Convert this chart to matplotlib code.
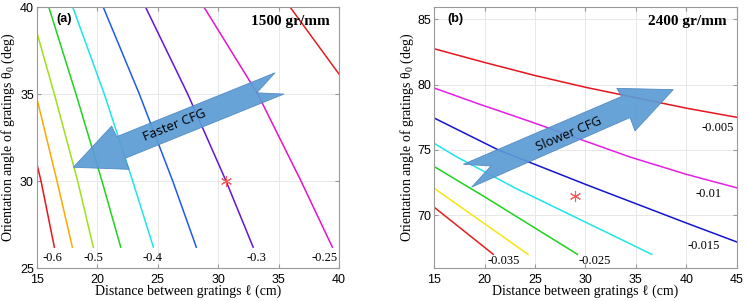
import matplotlib
matplotlib.use("Agg")
import matplotlib.pyplot as plt
from matplotlib.patches import Polygon

plt.rcParams["mathtext.fontset"] = "stix"

# ── data: panel (a), 1500 gr/mm ───────────────────────────────────────────────
a_colors = ["#e8141e", "#ffa800", "#a0e01a", "#1ed21e", "#1ee6e6",
            "#1e5af0", "#6414dc", "#e614c8", "#e61e1e"]
a_x = [
    [15.0, 15.36, 16.46],
    [15.0, 16.68, 17.95],
    [15.0, 16.46, 18.39, 19.68],
    [16.0, 18.25, 20.40, 21.95],
    [17.98, 20.59, 22.94, 24.65],
    [20.5, 23.49, 26.25, 28.2],
    [24.0, 27.49, 30.66, 32.9],
    [28.83, 33.28, 36.86, 39.45],
    [35.95, 40.0],
]
a_y = [
    [31.03, 30.0, 26.2],
    [34.8, 30.0, 26.2],
    [38.58, 35.0, 30.0, 26.2],
    [40.0, 35.0, 30.0, 26.2],
    [40.0, 35.0, 30.0, 26.2],
    [40.0, 35.0, 30.0, 26.2],
    [40.0, 35.0, 30.0, 26.2],
    [40.0, 35.0, 30.0, 26.2],
    [40.0, 36.15],
]
a_labels = ["-0.6", "-0.5", "-0.4", "-0.3", "-0.25"]
a_label_x = [16.3, 19.7, 24.6, 33.2, 38.8]
a_label_y = [25.6, 25.6, 25.6, 25.6, 25.6]
a_star = (30.65, 30.0)
a_arrow_x = [18.03, 22.66, 22.30, 35.45, 33.20, 34.71, 21.62, 21.20]
a_arrow_y = [30.79, 30.67, 31.30, 35.00, 35.07, 36.22, 32.55, 33.16]

# ── data: panel (b), 2400 gr/mm ───────────────────────────────────────────────
b_colors = ["#e8141e", "#e61ee6", "#1414d2", "#1ee6e6", "#1ed21e",
            "#f5e614", "#e61e1e"]
b_x = [
    [15.0, 20.0, 25.0, 30.0, 35.0, 40.0, 45.0],
    [15.0, 19.5, 24.5, 34.4, 40.0, 45.0],
    [15.0, 21.35, 30.0, 40.0, 45.0],
    [15.0, 17.05, 22.97, 36.57],
    [15.0, 20.0, 29.2],
    [15.0, 24.3],
    [15.0, 20.85],
]
b_y = [
    [82.75, 81.7, 80.7, 79.8, 79.0, 78.2, 77.5],
    [79.74, 78.5, 77.18, 74.46, 73.13, 72.1],
    [77.44, 75.0, 72.36, 69.4, 67.95],
    [75.5, 74.54, 72.1, 67.0],
    [73.72, 71.4, 67.0],
    [72.05, 67.0],
    [70.6, 67.0],
]
b_labels = ["-0.005", "-0.01", "-0.015", "-0.025", "-0.035"]
b_label_x = [43.1, 42.2, 41.7, 30.9, 21.85]
b_label_y = [76.7, 71.6, 67.6, 66.5, 66.5]
b_star = (29.0, 71.5)
b_arrow_x = [17.88, 20.62, 18.71, 34.42, 34.91, 38.71, 33.10, 33.59]
b_arrow_y = [73.90, 73.77, 72.15, 77.48, 76.46, 79.62, 79.72, 79.10]

serif = ["Liberation Serif", "DejaVu Serif"]
sans = ["Liberation Sans", "DejaVu Sans"]
ylab = r"Orientation angle of gratings $\mathregular{\theta_0}$ (deg)"
xlab = "Distance between gratings \u2113 (cm)"


def style(ax, xlim, ylim, xticks, yticks, ylab_x):
    ax.set_xlim(*xlim)
    ax.set_ylim(*ylim)
    ax.set_xticks(xticks)
    ax.set_yticks(yticks)
    ax.grid(True, color="#e8e8e8", linewidth=0.7)
    ax.set_axisbelow(True)
    ax.tick_params(direction="in", top=True, right=True, length=3,
                   color="#999999", labelsize=9)
    ax.tick_params(axis="x", pad=4)
    ax.tick_params(axis="y", pad=2)
    for lab in ax.get_xticklabels() + ax.get_yticklabels():
        lab.set_family(sans)
    for sp in ax.spines.values():
        sp.set_color("#999999")
        sp.set_linewidth(0.8)
    ax.set_xlabel(xlab, family=serif, fontsize=10, labelpad=-1)
    ax.set_ylabel(ylab, family=serif, fontsize=10)
    ax.yaxis.set_label_coords(ylab_x, 0.5)


fig = plt.figure(figsize=(7.47, 3.01), dpi=100)

# ── panel (a) ─────────────────────────────────────────────────────────────────
ax1 = fig.add_axes([0.0491, 0.1096, 0.4047, 0.867])
for xs, ys, c in zip(a_x, a_y, a_colors):
    ax1.plot(xs, ys, color=c, linewidth=1.1)
for t, x, y in zip(a_labels, a_label_x, a_label_y):
    ax1.text(x, y, t, family=serif, fontsize=9, ha="center", va="center")
ax1.plot(*a_star, marker=(6, 2, 0), markersize=8, color="#f06060",
         markeredgewidth=0.8, zorder=4)
ax1.add_patch(Polygon(list(zip(a_arrow_x, a_arrow_y)), closed=True,
                      facecolor="#5b9bd5", edgecolor="#4f88c0", linewidth=0.6,
                      alpha=0.92, zorder=5))
ax1.text(26.4, 33.2, "Faster CFG", family=["Open Sans", "DejaVu Sans"],
         fontsize=9.5, rotation=22, ha="center", va="center", zorder=6)
ax1.text(0.066, 0.955, "(a)", transform=ax1.transAxes, family=sans,
         fontsize=9, fontweight="bold", ha="left", va="center")
ax1.text(0.970, 0.945, "1500 gr/mm", transform=ax1.transAxes, family=serif,
         fontsize=11, fontweight="bold", ha="right", va="center")
style(ax1, (15, 40), (25, 40), [15, 20, 25, 30, 35, 40], [25, 30, 35, 40],
      -0.064)

# ── panel (b) ─────────────────────────────────────────────────────────────────
ax2 = fig.add_axes([0.5814, 0.1096, 0.4048, 0.867])
for xs, ys, c in zip(b_x, b_y, b_colors):
    ax2.plot(xs, ys, color=c, linewidth=1.1)
for t, x, y in zip(b_labels, b_label_x, b_label_y):
    ax2.text(x, y, t, family=serif, fontsize=9, ha="center", va="center")
ax2.plot(*b_star, marker=(6, 2, 0), markersize=8, color="#f06060",
         markeredgewidth=0.8, zorder=4)
ax2.add_patch(Polygon(list(zip(b_arrow_x, b_arrow_y)), closed=True,
                      facecolor="#5b9bd5", edgecolor="#4f88c0", linewidth=0.6,
                      alpha=0.92, zorder=5))
ax2.text(28.4, 76.2, "Slower CFG", family=["Open Sans", "DejaVu Sans"],
         fontsize=9.5, rotation=23, ha="center", va="center", zorder=6)
ax2.text(0.044, 0.955, "(b)", transform=ax2.transAxes, family=sans,
         fontsize=9, fontweight="bold", ha="left", va="center")
ax2.text(0.967, 0.945, "2400 gr/mm", transform=ax2.transAxes, family=serif,
         fontsize=11, fontweight="bold", ha="right", va="center")
style(ax2, (15, 45), (65.95, 85.95), [15, 20, 25, 30, 35, 40, 45],
      [70, 75, 80, 85], -0.062)

fig.savefig("out.png", dpi=100)
